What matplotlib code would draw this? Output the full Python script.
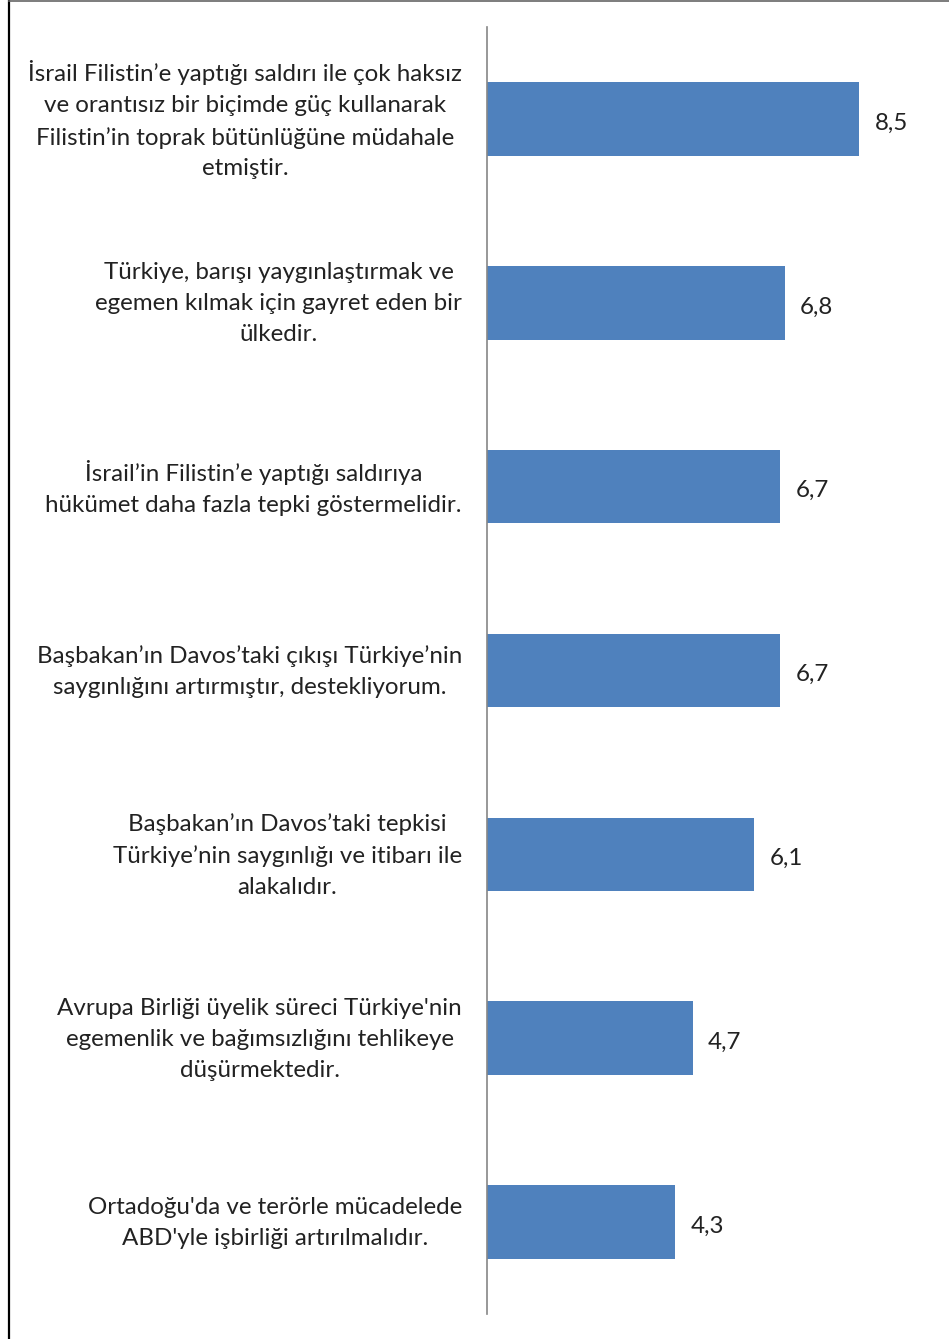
import matplotlib.pyplot as plt
import matplotlib.transforms as mtransforms
from matplotlib.lines import Line2D

labels = [
    "İsrail Filistin’e yaptığı saldırı ile çok haksız\nve orantısız bir biçimde güç kullanarak\nFilistin’in toprak bütünlüğüne müdahale\netmiştir.",
    "Türkiye, barışı yaygınlaştırmak ve\negemen kılmak için gayret eden bir\nülkedir.",
    "İsrail’in Filistin’e yaptığı saldırıya\nhükümet daha fazla tepki göstermelidir.",
    "Başbakan’ın Davos’taki çıkışı Türkiye’nin\nsaygınlığını artırmıştır, destekliyorum.",
    "Başbakan’ın Davos’taki tepkisi\nTürkiye’nin saygınlığı ve itibarı ile\nalakalıdır.",
    "Avrupa Birliği üyelik süreci Türkiye'nin\negemenlik ve bağımsızlığını tehlikeye\ndüşürmektedir.",
    "Ortadoğu'da ve terörle mücadelede\nABD'yle işbirliği artırılmalıdır.",
]
values = [8.5, 6.8, 6.7, 6.7, 6.1, 4.7, 4.3]

plt.rcParams['font.family'] = ['Lato', 'DejaVu Sans']

fig = plt.figure(figsize=(9.49, 13.39), dpi=100)
ax = fig.add_axes([487/949, 1 - 1314/1339, (925 - 487)/949, (1314 - 27)/1339])

pos = list(range(len(values)))
ax.barh(pos, values, height=0.4, color='#4F81BD')
ax.set_ylim(len(values) - 0.5, -0.5)
ax.set_xlim(0, 10)

for p, v in zip(pos, values):
    ax.annotate(f"{v:.1f}".replace('.', ','), (v, p), xytext=(11, -3),
                textcoords='offset points', va='center', ha='left',
                fontsize=17.4, color='#222222')

# category labels: right aligned block, centred lines
trans = ax.get_yaxis_transform() + mtransforms.ScaledTranslation(
    -25/100, -1/100, fig.dpi_scale_trans)
for p, lab in zip(pos, labels):
    ax.text(0, p, lab, transform=trans, ha='right', va='center',
            multialignment='center', fontsize=17.4, color='#222222',
            linespacing=1.58)

ax.set_yticks([])
ax.set_xticks([])

for s in ['top', 'right', 'bottom']:
    ax.spines[s].set_visible(False)
ax.spines['left'].set_color('#868686')
ax.spines['left'].set_linewidth(1.2)

# frame pieces around the figure
fig.add_artist(Line2D([8.5/949, 8.5/949], [0, 1], transform=fig.transFigure,
                      color='black', linewidth=1.6))
fig.add_artist(Line2D([8.5/949, 1], [1 - 1/1339, 1 - 1/1339], transform=fig.transFigure,
                      color='#666666', linewidth=1.2))

fig.savefig('out.png', dpi=100)
